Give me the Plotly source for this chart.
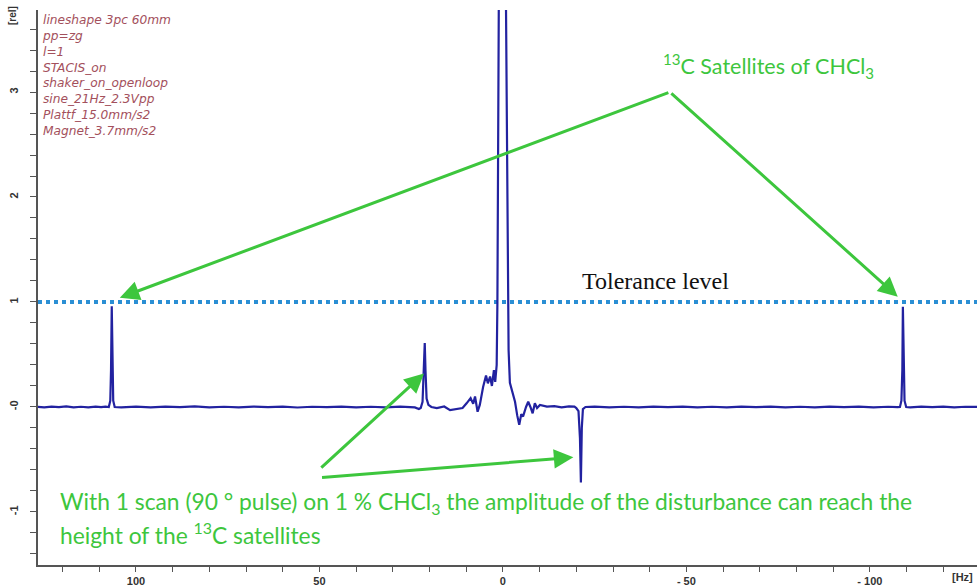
import plotly.graph_objects as go

# ---- spectrum (Hz, rel) ----
hz = [
    127.0, 125.0, 123.0, 121.0, 119.0, 117.0, 115.0, 113.0, 111.0, 109.5, 108.3,
    107.4, 107.0, 106.8, 106.6, 106.4, 106.2, 105.8,
    104.0, 100.0, 96.0, 92.0, 88.0, 84.0, 80.0, 76.0, 72.0, 68.0, 64.0, 60.0,
    56.0, 52.0, 48.0, 44.0, 40.0, 36.0, 32.0, 28.0, 24.0, 22.9,
    22.4, 21.9, 21.55, 21.3, 21.1, 20.8, 20.3, 19.5,
    18.0, 16.0, 14.4, 12.5, 11.0,
    9.9, 8.8, 8.1, 7.6, 6.9, 6.3, 5.4, 4.6, 4.1, 3.5, 3.0, 2.45, 2.1, 1.7,
    1.5, 1.1, 0.5, 0.0, -0.5, -0.8, -1.3, -1.55,
    -1.9, -2.4, -2.8, -3.3, -3.9, -4.45, -5.0, -5.5, -6.3, -6.9, -7.5, -8.1,
    -8.7, -9.3, -10.1,
    -12.0, -14.0, -16.0, -18.0, -19.5,
    -20.0, -20.6, -21.0, -21.25, -21.5, -21.8, -22.5,
    -25.0, -29.0, -33.0, -37.0, -41.0, -45.0, -49.0, -53.0, -57.0, -61.0,
    -65.0, -69.0, -73.0, -77.0, -81.0, -85.0, -89.0, -93.0, -97.0, -101.0,
    -105.0, -107.5,
    -108.2, -108.6, -108.85, -109.0, -109.2, -109.45, -109.9,
    -111.0, -114.0, -117.0, -120.0, -123.0, -126.0, -129.5,
]
rel = [
    0.003, -0.004, 0.004, -0.002, 0.005, -0.004, 0.002, -0.003, 0.004, -0.002, 0.004,
    0.0, 0.06, 0.35, 0.96, 0.35, 0.06, 0.0,
    -0.003, 0.004, -0.004, 0.003, -0.002, 0.005, -0.004, 0.002, -0.003, 0.004, -0.002, 0.003,
    -0.005, 0.002, -0.002, 0.004, -0.003, 0.002, -0.004, 0.003, -0.004, -0.02,
    -0.01, 0.05, 0.3, 0.61, 0.35, 0.08, 0.02, 0.0,
    -0.01, 0.005, -0.03, -0.015, -0.01,
    0.035, 0.085, 0.03, 0.1, -0.045, 0.02, 0.19, 0.30, 0.225, 0.29, 0.2, 0.35, 0.24, 0.4,
    1.0, 4.0, 30.0, 60.0, 30.0, 4.0, 1.0, 0.54,
    0.23, 0.16, 0.13, 0.05, -0.08, -0.17, -0.07, -0.09, 0.0, 0.05, 0.0, -0.06,
    0.035, -0.01, 0.02,
    0.004, 0.008, -0.003, 0.005, 0.003,
    -0.01, -0.04, -0.3, -0.72, -0.2, -0.02, 0.0,
    0.004, -0.003, 0.002, -0.004, 0.003, -0.002, 0.004, -0.003, 0.002, -0.004,
    0.003, -0.002, 0.004, -0.003, 0.002, -0.004, 0.003, -0.002, 0.004, -0.003,
    0.002, -0.002,
    0.0, 0.06, 0.35, 0.955, 0.35, 0.06, 0.0,
    -0.003, 0.004, -0.002, 0.003, -0.004, 0.002, 0.0,
]

tolerance = 1.0

x_ticks = [100, 50, 0, -50, -100]
x_ticktext = ["100", "50", "0", "- 50", "- 100"]
y_ticks = [-1, 0, 1, 2, 3]
y_ticktext = ["-1", "-0", "1", "2", "3"]

acq_notes = [
    "lineshape 3pc 60mm",
    "pp=zg",
    "l=1",
    "STACIS_on",
    "shaker_on_openloop",
    "sine_21Hz_2.3Vpp",
    "Plattf_15.0mm/s2",
    "Magnet_3.7mm/s2",
]

X_RANGE = [126.7, -129.2]
Y_RANGE = [-1.505, 3.781]

GREEN = "#3dc63d"
W, H = 977, 588
ML, MR, MT, MB = 38, 0, 10, 23


def px(xp):
    return (xp - ML) / (W - ML - MR)


def py(yp):
    return (H - MB - yp) / (H - MT - MB)


fig = go.Figure()

fig.add_trace(go.Scatter(
    x=[X_RANGE[0], X_RANGE[1]], y=[tolerance, tolerance], mode="lines",
    line=dict(color="#2b8fd4", width=4, dash="4px,4px"), hoverinfo="skip",
))
fig.add_trace(go.Scatter(
    x=hz, y=rel, mode="lines",
    line=dict(color="#2222a0", width=2.2), hoverinfo="skip",
))

annotations = []

# acquisition notes, one block
annotations.append(dict(
    x=px(41), y=py(12), xref="paper", yref="paper",
    text="<br>".join(acq_notes), showarrow=False, xanchor="left", yanchor="top",
    align="left", borderpad=0,
    font=dict(family="DejaVu Sans", size=12.2, color="#a3505c", style="italic"),
))

# axis unit labels
annotations.append(dict(
    x=px(12), y=py(16), xref="paper", yref="paper", text="[rel]", showarrow=False,
    textangle=-90, xanchor="center", yanchor="middle",
    font=dict(family="Liberation Sans", size=10, color="#333333", weight="bold"),
))
annotations.append(dict(
    x=px(962), y=py(577), xref="paper", yref="paper", text="[Hz]", showarrow=False,
    xanchor="center", yanchor="middle",
    font=dict(family="Liberation Sans", size=11, color="#333333", weight="bold"),
))

# tolerance label
annotations.append(dict(
    x=px(655.7), y=py(281), xref="paper", yref="paper", text="Tolerance level",
    showarrow=False, xanchor="center", yanchor="middle",
    font=dict(family="Liberation Serif", size=24, color="#111111"),
))

# satellites label and arrows
annotations.append(dict(
    x=px(768), y=py(66), xref="paper", yref="paper",
    text="<sup>13</sup>C Satellites of CHCl<sub>3</sub>",
    showarrow=False, xanchor="center", yanchor="middle",
    font=dict(family="Lato", size=21.5, color=GREEN),
))

apex = (-45.5, 3.0)
for head in [(104.4, 1.04), (-107.6, 1.05)]:
    annotations.append(dict(
        x=head[0], y=head[1], ax=apex[0], ay=apex[1], xref="x", yref="y",
        axref="x", ayref="y", text="", showarrow=True, arrowhead=2,
        arrowsize=1.3, arrowwidth=3, arrowcolor=GREEN,
    ))

# disturbance arrows
for tail, head in [((49.9, -0.59), (21.5, 0.32)), ((49.7, -0.673), (-19.2, -0.479))]:
    annotations.append(dict(
        x=head[0], y=head[1], ax=tail[0], ay=tail[1], xref="x", yref="y",
        axref="x", ayref="y", text="", showarrow=True, arrowhead=2,
        arrowsize=1.3, arrowwidth=3, arrowcolor=GREEN,
    ))

annotations.append(dict(
    x=px(58), y=py(502), xref="paper", yref="paper",
    text="With 1 scan (90 ° pulse) on 1 % CHCl<sub>3</sub> the amplitude of the disturbance can reach the",
    showarrow=False, xanchor="left", yanchor="middle",
    font=dict(family="Lato", size=22.8, color=GREEN),
))
annotations.append(dict(
    x=px(58), y=py(533), xref="paper", yref="paper",
    text="height of the <sup>13</sup>C satellites",
    showarrow=False, xanchor="left", yanchor="middle",
    font=dict(family="Lato", size=22.8, color=GREEN),
))

fig.update_layout(
    width=W, height=H,
    margin=dict(l=ML, r=MR, t=MT, b=MB),
    paper_bgcolor="white", plot_bgcolor="white",
    showlegend=False,
    annotations=annotations,
)

fig.update_xaxes(
    range=X_RANGE, showgrid=False, zeroline=False,
    showline=True, linecolor="#555555", linewidth=1.5,
    ticks="outside", ticklen=5, tickcolor="#555555", tickwidth=1,
    tickvals=x_ticks, ticktext=x_ticktext,
    tickfont=dict(family="Liberation Sans", size=11, color="#333333", weight="bold"),
    minor=dict(ticks="outside", ticklen=5, tickcolor="#555555", dtick=10, tick0=0),
)
fig.update_yaxes(
    range=Y_RANGE, showgrid=False, zeroline=False,
    showline=True, linecolor="#555555", linewidth=1.5,
    ticks="outside", ticklen=6, tickcolor="#555555", tickwidth=1,
    tickvals=y_ticks, ticktext=y_ticktext, tickangle=-90, ticklabelstandoff=8,
    tickfont=dict(family="Liberation Sans", size=11, color="#333333", weight="bold"),
    minor=dict(ticks="outside", ticklen=6, tickcolor="#555555", dtick=0.2, tick0=0),
)

fig.write_html("out.html")
